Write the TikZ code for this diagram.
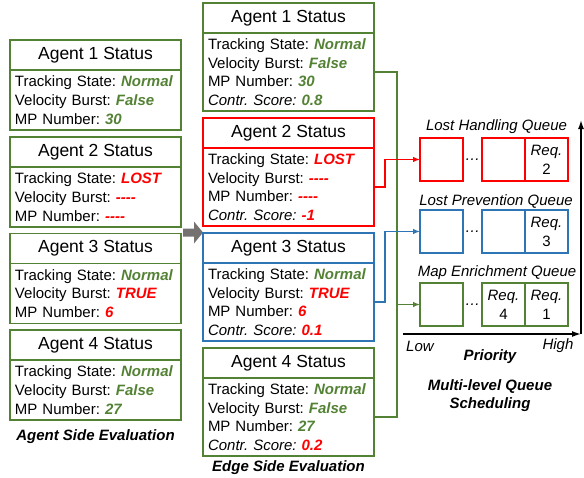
\documentclass[tikz,border=0pt]{standalone}
\usepackage{fontspec}
\setmainfont{Liberation Sans}
\usetikzlibrary{positioning,arrows.meta}
\frenchspacing

\definecolor{okgreen}{RGB}{84,130,53}
\definecolor{lostred}{RGB}{255,0,0}
\definecolor{prevblue}{RGB}{46,117,182}
\definecolor{arrowgray}{RGB}{118,113,113}

\newcommand{\good}[1]{\textcolor{okgreen}{\textbf{\textit{#1}}}}
\newcommand{\bad}[1]{\textcolor{lostred}{\textbf{\textit{#1}}}}
\newcommand{\nodash}{\bad{-{}-{}-{}-}}

\tikzset{
    headbox/.style={draw=#1, line width=1.2pt, minimum width=171pt, minimum height=30pt,
        inner sep=0pt, outer sep=0pt, font=\fontsize{17.5}{20}\selectfont},
    infobox/.style={draw=#1, line width=1.2pt, minimum width=171pt, anchor=north,
        inner xsep=5pt, inner ysep=0pt, outer sep=0pt, text width=161pt, align=left,
        font=\fontsize{15}{18.7}\selectfont},
    qbox/.style={draw=#1, line width=1.2pt, minimum size=43pt, inner sep=0pt, outer sep=0pt,
        align=center, font=\fontsize{15}{19}\selectfont},
    qlabel/.style={font=\fontsize{15}{18}\selectfont\itshape},
    caption/.style={font=\fontsize{15}{18}\selectfont\bfseries\itshape, align=center},
    link/.style={draw=#1, line width=1.2pt}
}

\begin{document}
\begin{tikzpicture}[x=1pt, y=-1pt, >={Latex[length=7pt,width=5.5pt]}]
    \useasboundingbox (0,0) rectangle (584,477);

    % agent side
    \node[headbox=okgreen] (a1h) at (95.5,55) {Agent 1 Status};
    \node[infobox=okgreen, minimum height=60pt] (a1b) at (a1h.south)
        {Tracking State: \good{Normal}\\Velocity Burst: \good{False}\\MP Number: \good{30}};
    \node[headbox=okgreen] (a2h) at (95.5,152) {Agent 2 Status};
    \node[infobox=okgreen, minimum height=60pt] (a2b) at (a2h.south)
        {Tracking State: \bad{LOST}\\Velocity Burst: \nodash\\MP Number: \nodash};
    \node[headbox=okgreen] (a3h) at (95.5,248.5) {Agent 3 Status};
    \node[infobox=okgreen, minimum height=60pt] (a3b) at (a3h.south)
        {Tracking State: \good{Normal}\\Velocity Burst: \bad{TRUE}\\MP Number: \bad{6}};
    \node[headbox=okgreen] (a4h) at (95.5,345) {Agent 4 Status};
    \node[infobox=okgreen, minimum height=60pt] (a4b) at (a4h.south)
        {Tracking State: \good{Normal}\\Velocity Burst: \good{False}\\MP Number: \good{27}};
    \node[caption] (aside) at (95.5,437) {Agent Side Evaluation};

    \fill[arrowgray] (183,228.5) -- (194,228.5) -- (194,221.5) -- (203,232.5)
        -- (194,243.5) -- (194,236.5) -- (183,236.5) -- cycle;

    % edge side
    \node[headbox=okgreen] (e1h) at (288.5,18) {Agent 1 Status};
    \node[infobox=okgreen, minimum height=78pt] (e1b) at (e1h.south)
        {Tracking State: \good{Normal}\\Velocity Burst: \good{False}\\MP Number: \good{30}\\
         \textit{Contr. Score:} \good{0.8}};
    \node[headbox=lostred] (e2h) at (288.5,133) {Agent 2 Status};
    \node[infobox=lostred, minimum height=78pt] (e2b) at (e2h.south)
        {Tracking State: \bad{LOST}\\Velocity Burst: \nodash\\MP Number: \nodash\\
         \textit{Contr. Score:} \bad{-1}};
    \node[headbox=prevblue] (e3h) at (288.5,248) {Agent 3 Status};
    \node[infobox=prevblue, minimum height=78pt] (e3b) at (e3h.south)
        {Tracking State: \good{Normal}\\Velocity Burst: \bad{TRUE}\\MP Number: \bad{6}\\
         \textit{Contr. Score:} \bad{0.1}};
    \node[headbox=okgreen] (e4h) at (288.5,363) {Agent 4 Status};
    \node[infobox=okgreen, minimum height=78pt] (e4b) at (e4h.south)
        {Tracking State: \good{Normal}\\Velocity Burst: \good{False}\\MP Number: \good{27}\\
         \textit{Contr. Score:} \bad{0.2}};
    \node[caption] (eside) at (288.5,468) {Edge Side Evaluation};

    % queues
    \node[qlabel] (rlab) at (496.5,127) {Lost Handling Queue};
    \node[qbox=lostred] (r1) at (441.5,159.5) {};
    \node[qlabel] (rdots) at (472.5,159.5) {\dots};
    \node[qbox=lostred] (r2) at (503.5,159.5) {};
    \node[qbox=lostred] (r3) at (546.5,159.5) {\textit{Req.}\\2};

    \node[qlabel] (blab) at (496,201) {Lost Prevention Queue};
    \node[qbox=prevblue] (b1) at (441.5,231.5) {};
    \node[qlabel] (bdots) at (472.5,231.5) {\dots};
    \node[qbox=prevblue] (b2) at (503.5,231.5) {};
    \node[qbox=prevblue] (b3) at (546.5,231.5) {\textit{Req.}\\3};

    \node[qlabel] (glab) at (497,273) {Map Enrichment Queue};
    \node[qbox=okgreen] (g1) at (441.5,304.5) {};
    \node[qlabel] (gdots) at (472.5,304.5) {\dots};
    \node[qbox=okgreen] (g2) at (503.5,304.5) {\textit{Req.}\\4};
    \node[qbox=okgreen] (g3) at (546.5,304.5) {\textit{Req.}\\1};

    % links
    \draw[link=okgreen] (e1b.east) -- ++(23,0) coordinate (gbus) |- (e4b.east);
    \draw[link=okgreen, ->] (gbus |- g1.west) -- (g1.west);
    \draw[link=lostred, ->] (e2b.east) -- ++(11,0) |- (r1.west);
    \draw[link=prevblue, ->] (e3b.east) -- ++(11,0) |- (b1.west);

    % priority axis
    \coordinate (low) at (403,334);
    \coordinate (corner) at (581,334);
    \coordinate (top) at (581,120);
    \draw[line width=1.5pt, -{Latex[length=9pt,width=6pt]}] (low) -- (corner);
    \draw[line width=1.5pt, -{Latex[length=9pt,width=6pt]}] (corner) -- (top);
    \node[qlabel] (lowlab) at (420,346) {Low};
    \node[qlabel] (highlab) at (558,346) {High};
    \node[caption] (prio) at (490,357) {Priority};
    \node[caption] (mlqs) at (490,396) {Multi-level Queue\\Scheduling};
\end{tikzpicture}
\end{document}
